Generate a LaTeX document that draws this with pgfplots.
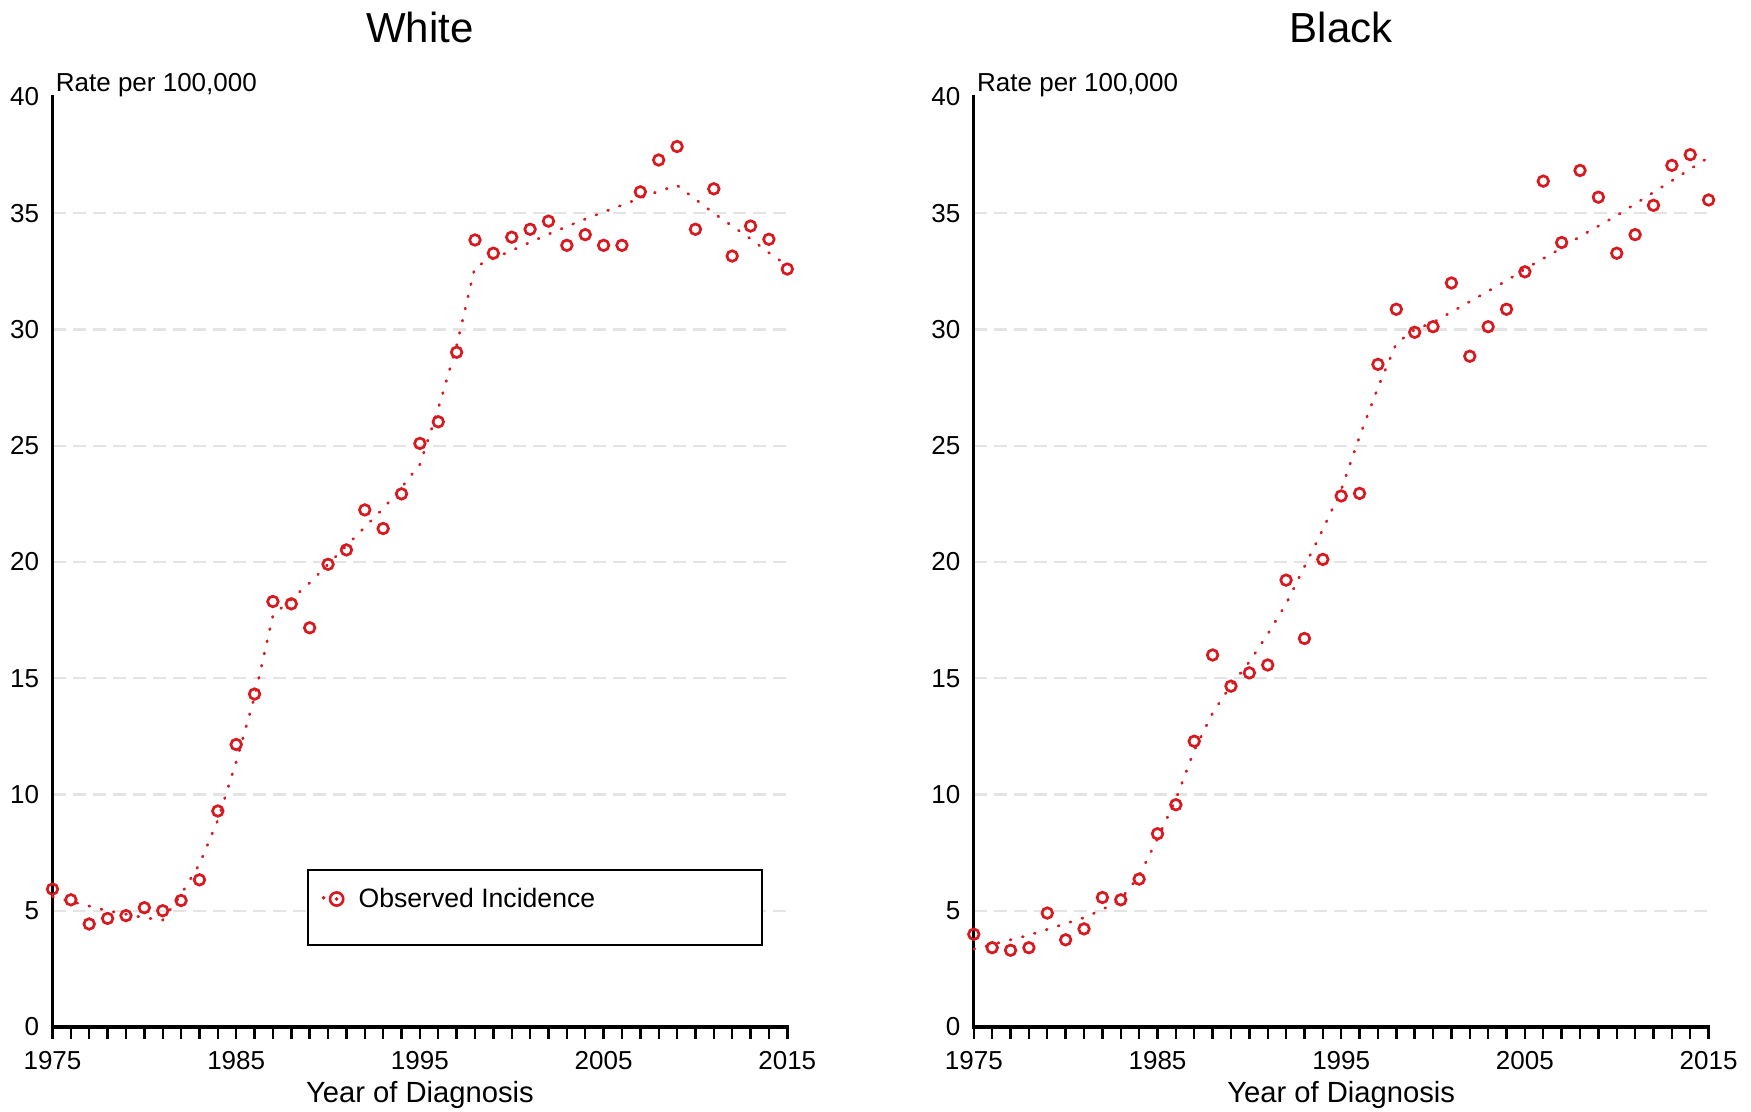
\documentclass[border=0pt]{standalone}
\usepackage{fontspec}
\setmainfont{Liberation Sans}
\usepackage{pgfplots}
\usepackage{pgfplotstable}
\pgfplotsset{compat=1.18}

\definecolor{obsred}{RGB}{215,25,32}
\definecolor{gridgray}{RGB}{228,228,228}

% year, observed rate, fitted (joinpoint) rate
\pgfplotstableread{
year obs fit
1975 5.93 5.60
1976 5.47 5.40
1977 4.43 5.20
1978 4.67 5.00
1979 4.79 4.85
1980 5.13 4.70
1981 5.00 4.60
1982 5.44 5.70
1983 6.33 7.00
1984 9.29 8.90
1985 12.15 11.40
1986 14.32 14.20
1987 18.30 17.70
1988 18.20 18.40
1989 17.17 19.10
1990 19.90 19.90
1991 20.52 20.70
1992 22.24 21.50
1993 21.44 22.30
1994 22.93 23.20
1995 25.10 24.20
1996 26.03 26.60
1997 29.02 29.30
1998 33.85 32.70
1999 33.28 33.05
2000 33.97 33.40
2001 34.31 33.75
2002 34.66 34.10
2003 33.62 34.43
2004 34.08 34.75
2005 33.62 35.05
2006 33.62 35.35
2007 35.92 35.65
2008 37.29 35.95
2009 37.87 36.20
2010 34.31 35.60
2011 36.05 35.00
2012 33.16 34.45
2013 34.45 33.90
2014 33.88 33.30
2015 32.60 32.75
}\whitedata

\pgfplotstableread{
year obs fit
1975 3.99 3.35
1976 3.41 3.55
1977 3.30 3.75
1978 3.41 3.95
1979 4.90 4.20
1980 3.75 4.45
1981 4.22 4.70
1982 5.57 5.05
1983 5.47 5.50
1984 6.36 6.50
1985 8.31 8.10
1986 9.56 9.80
1987 12.29 11.90
1988 16.00 13.50
1989 14.66 14.70
1990 15.23 15.70
1991 15.57 16.90
1992 19.22 18.20
1993 16.71 19.80
1994 20.11 21.40
1995 22.84 23.10
1996 22.95 25.40
1997 28.50 27.50
1998 30.87 29.40
1999 29.88 30.00
2000 30.12 30.30
2001 32.00 30.75
2002 28.85 31.20
2003 30.12 31.65
2004 30.87 32.10
2005 32.48 32.60
2006 36.38 33.05
2007 33.74 33.50
2008 36.84 34.00
2009 35.69 34.45
2010 33.28 34.90
2011 34.08 35.40
2012 35.34 35.90
2013 37.06 36.40
2014 37.52 36.90
2015 35.57 37.40
}\blackdata

\pgfplotsset{
  rateaxis/.style={
    scale only axis, width=367.4pt, height=465pt,
    anchor=south west, clip=false,
    xmin=1975, xmax=2015, ymin=0, ymax=40,
    axis lines=left,
    axis line style={-, line width=1.6pt, black, line cap=rect},
    tick align=inside,
    major tick length=6pt, minor tick length=6pt,
    xtick={1975,1985,...,2015}, minor x tick num=9,
    xtick style={black, line width=1.2pt, yshift=-6pt},
    ytick={0,5,...,35}, ytick style={draw=none},
    extra y ticks={40}, extra y tick style={grid=none, tick style={draw=none}},
    ymajorgrids,
    grid style={gridgray, line width=1.1pt, dash pattern=on 6.5pt off 3.5pt},
    /pgf/number format/.cd, 1000 sep={}, assume math mode=true, /pgfplots/.cd,
    ticklabel style={font=\fontsize{13}{15}\selectfont},
    xticklabel style={anchor=base, inner sep=0pt, yshift=-21.5pt},
    yticklabel style={anchor=east, inner sep=0pt, xshift=-6.5pt},
    every axis title/.style={at={(axis description cs:0.5,1)}, anchor=base,
      yshift=27pt, font=\fontsize{21}{25}\selectfont},
    every axis x label/.style={at={(axis description cs:0.5,0)}, anchor=base,
      yshift=-38pt, font=\fontsize{14.6}{17}\selectfont},
    xlabel={Year of Diagnosis},
  },
  fitline/.style={obsred, line width=1.35pt, line cap=round,
    dash pattern=on 0.5pt off 5.75pt, mark=none, forget plot},
  obsmarks/.style={only marks, mark=o, mark size=2.65pt,
    mark options={obsred, line width=1.35pt, solid}, forget plot},
}

\begin{document}
\begin{tikzpicture}
\useasboundingbox (0,0) rectangle (875.5pt,556pt);

\begin{axis}[rateaxis, at={(26.25pt,42.5pt)}, title={White},
  legend style={draw=none, fill=none, at={(axis description cs:0.366,0.1376)},
    anchor=west, inner sep=0pt, font=\fontsize{13.3}{16}\selectfont},
  legend cell align=left]
  \draw[black, line width=1pt, fill=white]
    (axis description cs:0.348,0.0882) rectangle (axis description cs:0.9655,0.1688);
  \addplot[fitline] table[x=year, y=fit] {\whitedata};
  \addplot[obsmarks] table[x=year, y=obs] {\whitedata};
  \addlegendimage{obsred, legend image code/.code={
    \fill[obsred] (0pt,0.6pt) circle (0.7pt);
    \fill[obsred] (6.5pt,0pt) circle (0.7pt);
    \draw[obsred, solid, line width=1.3pt] (6.5pt,0pt) circle (3.3pt);
    \path[draw=none, fill=none] (0pt,0pt) -- (15.5pt,0pt);
  }}
  \addlegendentry{Observed Incidence}
  \node[anchor=base west, inner sep=0pt, font=\fontsize{13}{15}\selectfont]
    at (axis description cs:0,1) [xshift=1.5pt, yshift=2.5pt] {Rate per 100,000};
\end{axis}

\begin{axis}[rateaxis, at={(486.9pt,42.5pt)}, title={Black}]
  \addplot[fitline] table[x=year, y=fit] {\blackdata};
  \addplot[obsmarks] table[x=year, y=obs] {\blackdata};
  \node[anchor=base west, inner sep=0pt, font=\fontsize{13}{15}\selectfont]
    at (axis description cs:0,1) [xshift=1.5pt, yshift=2.5pt] {Rate per 100,000};
\end{axis}
\end{tikzpicture}
\end{document}
